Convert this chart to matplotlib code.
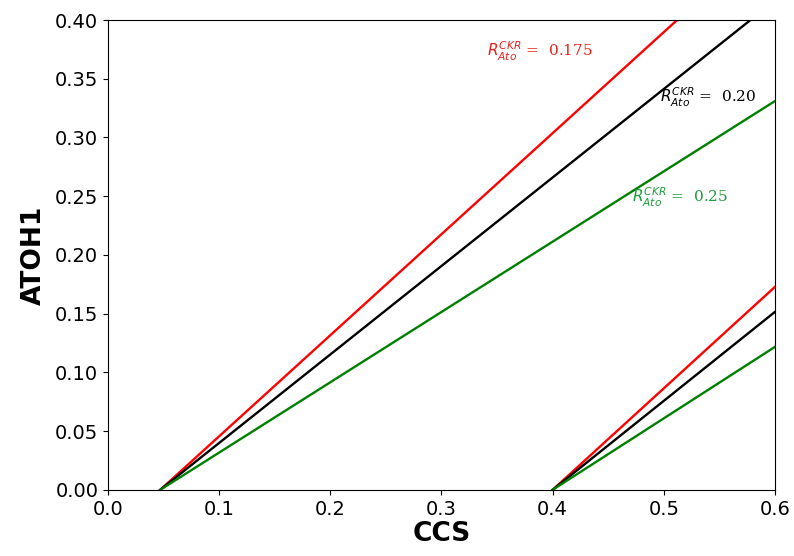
import matplotlib
matplotlib.use('Agg')
import matplotlib.pyplot as plt

# values
ratios = ['0.175', '0.20', '0.25']
colors = ['red', 'black', 'green']
text_colors = ['#e8201c', 'black', '#1e9a3c']
x_left = [[0.047, 0.512], [0.047, 0.578], [0.047, 0.600]]
y_left = [[0.0, 0.400], [0.0, 0.400], [0.0, 0.331]]
x_right = [[0.400, 0.600], [0.400, 0.600], [0.400, 0.600]]
y_right = [[0.0, 0.1728], [0.0, 0.1515], [0.0, 0.1217]]
label_x = [0.341, 0.497, 0.471]
label_y = [0.373, 0.334, 0.249]

fig = plt.figure(figsize=(7.94, 5.56), dpi=100)
ax = fig.add_axes([0.136, 0.119, 0.840, 0.845])

for i in range(3):
    ax.plot(x_left[i], y_left[i], color=colors[i], lw=1.7)
    ax.plot(x_right[i], y_right[i], color=colors[i], lw=1.7)
    ax.text(label_x[i], label_y[i], r'$R_{Ato}^{CKR}$ =  ' + ratios[i],
            color=text_colors[i], fontsize=11, va='center', family='DejaVu Serif')

ax.set_xlim(0, 0.6)
ax.set_ylim(0, 0.4)
ax.set_xticks([0.0, 0.1, 0.2, 0.3, 0.4, 0.5, 0.6])
ax.set_yticks([0.0, 0.05, 0.1, 0.15, 0.2, 0.25, 0.3, 0.35, 0.4])
ax.set_yticklabels(['0.00', '0.05', '0.10', '0.15', '0.20', '0.25', '0.30', '0.35', '0.40'])
ax.tick_params(labelsize=14)
ax.set_xlabel('CCS', fontsize=19, fontweight='bold', labelpad=2)
ax.set_ylabel('ATOH1', fontsize=19, fontweight='bold', labelpad=6)

fig.savefig('out.png', dpi=100)
